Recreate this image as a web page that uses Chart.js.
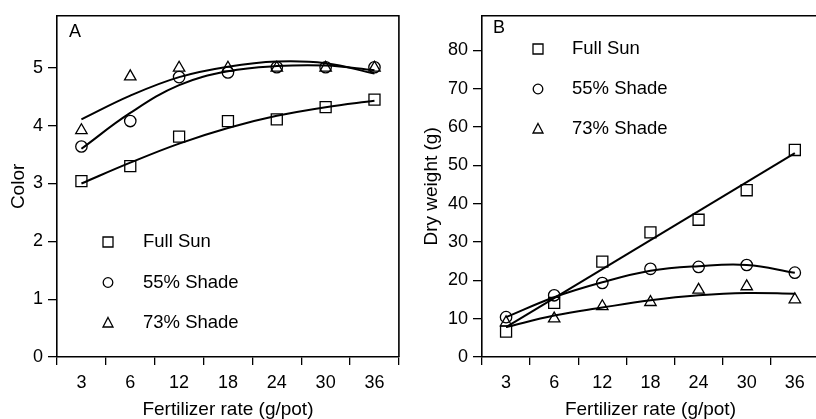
<!DOCTYPE html>
<html>
<head>
<meta charset="utf-8">
<script src="https://cdn.jsdelivr.net/npm/chart.js@4/dist/chart.umd.min.js"></script>
<style>
html, body { margin: 0; padding: 0; background: #fff; overflow: hidden; }
#wrap { position: relative; width: 816px; height: 419px; overflow: hidden; }
#panelA { position: absolute; left: 0; top: 0; }
#panelB { position: absolute; left: 408px; top: 0; }
</style>
</head>
<body>
<div id="wrap">
  <canvas id="panelA" width="408" height="419"></canvas>
  <canvas id="panelB" width="420" height="419"></canvas>
</div>
<script>
// 共通
const fertRates = ['3', '6', '12', '18', '24', '30', '36'];
const seriesNames = ['Full Sun', '55% Shade', '73% Shade'];
const markerStyles = ['rect', 'circle', 'triangle'];

// A: Color
const colorTicks = [0, 1, 2, 3, 4, 5];
const colorFullSun = [3.04, 3.30, 3.81, 4.08, 4.11, 4.32, 4.45];
const color55 = [3.64, 4.08, 4.84, 4.92, 5.01, 5.01, 5.01];
const color73 = [3.92, 4.85, 5.00, 5.00, 5.00, 5.00, 5.00];
const colorFitFullSun = [3.00, 3.36, 3.69, 3.96, 4.17, 4.32, 4.43];
const colorFit55 = [3.60, 4.22, 4.70, 4.94, 5.03, 5.04, 4.96];
const colorFit73 = [4.11, 4.52, 4.84, 5.02, 5.11, 5.08, 4.90];

// B: Dry weight (g)
const dryTicks = [0, 10, 20, 30, 40, 50, 60, 70, 80];
const dryFullSun = [6.6, 14.1, 24.9, 32.5, 35.8, 43.5, 54.0];
const dry55 = [10.4, 16.1, 19.3, 23.0, 23.5, 24.0, 22.0];
const dry73 = [9.0, 10.0, 13.2, 14.3, 17.5, 18.4, 15.0];
const dryFitFullSun = [7.8, null, null, null, null, null, 53.2];
const dryFit55 = [10.4, 15.6, 19.5, 22.5, 23.7, 24.0, 22.0];
const dryFit73 = [7.8, 10.8, 12.9, 14.8, 16.1, 16.7, 16.5];

const FONT = '"Liberation Sans", Arial, Helvetica, sans-serif';

// 上・右の枠線、パネル記号、凡例
const panelDecor = {
    id: 'panelDecor',
    afterDraw(chart, args, opts) {
        const ctx = chart.ctx;
        const area = chart.chartArea;
        ctx.save();
        ctx.strokeStyle = '#000';
        ctx.lineWidth = 1.6;
        ctx.beginPath();
        ctx.moveTo(area.left, area.top);
        ctx.lineTo(area.right, area.top);
        ctx.lineTo(area.right, area.bottom);
        ctx.stroke();

        ctx.fillStyle = '#000';
        ctx.font = '18px ' + FONT;
        ctx.textBaseline = 'middle';
        ctx.fillText(opts.letter, opts.letterX, opts.letterY);

        ctx.font = '18.5px ' + FONT;
        ctx.lineWidth = 1.3;
        seriesNames.forEach((name, i) => {
            const x = opts.legendX;
            const y = opts.legendY + i * opts.legendGap;
            ctx.beginPath();
            if (markerStyles[i] === 'rect') {
                ctx.rect(x - 5, y - 5, 10, 10);
            } else if (markerStyles[i] === 'circle') {
                ctx.arc(x, y, 4.8, 0, Math.PI * 2);
            } else {
                ctx.moveTo(x, y - 5.5);
                ctx.lineTo(x + 5, y + 4);
                ctx.lineTo(x - 5, y + 4);
                ctx.closePath();
            }
            ctx.stroke();
            ctx.fillText(name, opts.textX, y);
        });
        ctx.restore();
    }
};

function fitLine(data, opts) {
    return Object.assign({
        type: 'line',
        data: data,
        borderColor: '#000',
        borderWidth: 2,
        pointRadius: 0,
        fill: false,
        tension: 0.4,
        order: 2
    }, opts || {});
}

function markers(data, style, radius) {
    return {
        type: 'line',
        data: data,
        showLine: false,
        pointStyle: style,
        pointRadius: radius,
        pointBorderWidth: 1.3,
        pointBorderColor: '#000',
        pointBackgroundColor: 'rgba(0,0,0,0)',
        order: 1
    };
}

function makePanel(canvasId, cfg) {
    const ctx = document.getElementById(canvasId).getContext('2d');
    return new Chart(ctx, {
        type: 'line',
        data: {
            labels: fertRates,
            datasets: [
                fitLine(cfg.fits[0], cfg.fitOpts ? cfg.fitOpts[0] : null),
                fitLine(cfg.fits[1]),
                fitLine(cfg.fits[2]),
                markers(cfg.points[0], 'rect', 7.8),
                markers(cfg.points[1], 'circle', 5.7),
                markers(cfg.points[2], 'triangle', 6.6)
            ]
        },
        options: {
            responsive: false,
            animation: false,
            events: [],
            layout: { padding: cfg.padding },
            plugins: {
                legend: { display: false },
                tooltip: { enabled: false },
                panelDecor: cfg.decor
            },
            scales: {
                x: {
                    type: 'category',
                    offset: true,
                    grid: {
                        offset: true,
                        drawOnChartArea: false,
                        drawTicks: true,
                        tickLength: 8,
                        color: '#000',
                        lineWidth: 1.3
                    },
                    border: { color: '#000', width: 1.6 },
                    ticks: {
                        color: '#000',
                        font: { size: 18, family: FONT },
                        padding: 7,
                        maxRotation: 0,
                        autoSkip: false
                    },
                    title: {
                        display: true,
                        text: 'Fertilizer rate (g/pot)',
                        color: '#000',
                        font: { size: 19, family: FONT, lineHeight: 1 },
                        padding: { top: 0, bottom: 0 }
                    },
                    afterFit(scale) { scale.height = 62; }
                },
                y: {
                    type: 'linear',
                    min: 0,
                    max: cfg.yMax,
                    afterBuildTicks(scale) {
                        scale.ticks = cfg.yTicks.map(v => ({ value: v }));
                    },
                    grid: {
                        drawOnChartArea: false,
                        drawTicks: true,
                        tickLength: 9,
                        color: '#000',
                        lineWidth: 1.3
                    },
                    border: { color: '#000', width: 1.6 },
                    ticks: {
                        color: '#000',
                        font: { size: 18, family: FONT },
                        padding: 5
                    },
                    title: {
                        display: true,
                        text: cfg.yTitle,
                        color: '#000',
                        font: { size: 19, family: FONT, lineHeight: 1 },
                        padding: { top: cfg.yTitlePad, bottom: 0 }
                    },
                    afterFit(scale) { scale.width = cfg.yWidth; }
                }
            }
        },
        plugins: [panelDecor]
    });
}

makePanel('panelA', {
    fits: [colorFitFullSun, colorFit55, colorFit73],
    points: [colorFullSun, color55, color73],
    yMax: 5.9,
    yTicks: colorTicks,
    yTitle: 'Color',
    yTitlePad: 9,
    yWidth: 57,
    padding: { left: 0, top: 13, right: 7, bottom: 0 },
    decor: { letter: 'A', letterX: 69, letterY: 32, legendX: 108, legendY: 242, legendGap: 40.5, textX: 143 }
});

makePanel('panelB', {
    fits: [dryFitFullSun, dryFit55, dryFit73],
    fitOpts: [{ spanGaps: true, tension: 0 }],
    points: [dryFullSun, dry55, dry73],
    yMax: 89,
    yTicks: dryTicks,
    yTitle: 'Dry weight (g)',
    yTitlePad: 14,
    yWidth: 74,
    padding: { left: 0, top: 13, right: 6, bottom: 0 },
    decor: { letter: 'B', letterX: 85, letterY: 28, legendX: 130, legendY: 49, legendGap: 40, textX: 164 }
});
</script>
</body>
</html>
